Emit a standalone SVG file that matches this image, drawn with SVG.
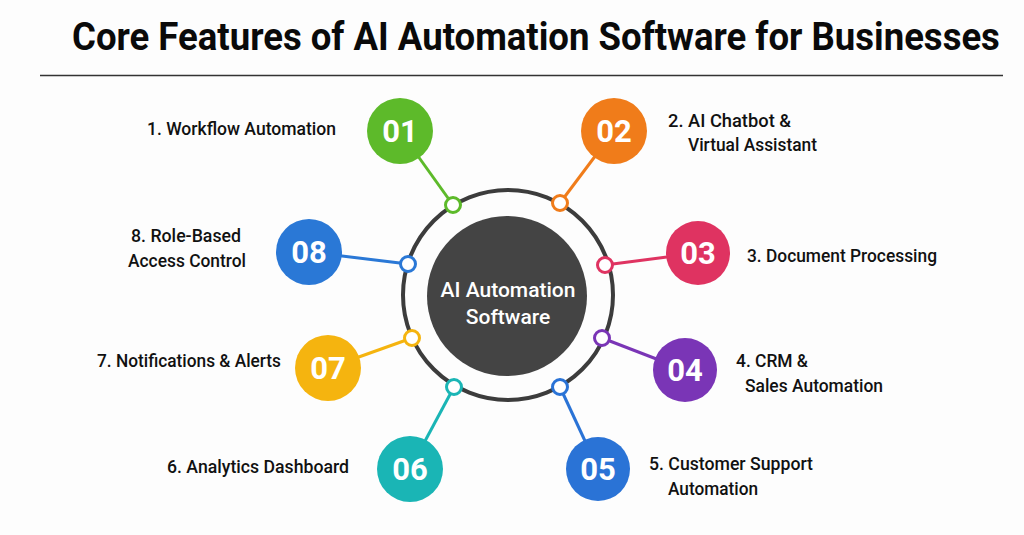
<svg xmlns="http://www.w3.org/2000/svg" width="1024" height="535" viewBox="0 0 1024 535">
<style>
.lbl{font-family:Roboto,"Liberation Sans",sans-serif;font-weight:500;font-size:18px;fill:#111}
.num{font-family:Roboto,"Liberation Sans",sans-serif;font-weight:700;font-size:31px;fill:#fff;text-anchor:middle}
.ctr{font-family:Roboto,"Liberation Sans",sans-serif;font-weight:500;font-size:21px;fill:#fff;text-anchor:middle}
.dot{fill:#fff;stroke-width:3}
.con{stroke-width:3;fill:none}
</style>
<rect width="1024" height="535" fill="#fdfdfd"/>
<text transform="scale(0.9,1)" x="80" y="50" font-family="Roboto,'Liberation Sans',sans-serif" font-weight="700" font-size="38" fill="#0a0a0a" textLength="1031" lengthAdjust="spacingAndGlyphs">Core Features of AI Automation Software for Businesses</text>
<line x1="40" y1="75.5" x2="1003" y2="75.5" stroke="#333" stroke-width="1.6"/>
<g id="connectors">
<line class="con" x1="400" y1="131" x2="453" y2="205" stroke="#5dba2a"/>
<line class="con" x1="614" y1="131" x2="560" y2="203" stroke="#f07c1a"/>
<line class="con" x1="698" y1="253" x2="605" y2="265" stroke="#df3361"/>
<line class="con" x1="685" y1="370" x2="602" y2="338" stroke="#7a35b6"/>
<line class="con" x1="598" y1="469" x2="560" y2="387" stroke="#2a73d6"/>
<line class="con" x1="410" y1="469" x2="454" y2="387" stroke="#1ab5b5"/>
<line class="con" x1="328" y1="368" x2="412" y2="338" stroke="#f5b40f"/>
<line class="con" x1="309" y1="252" x2="408" y2="264" stroke="#2a78d6"/>
</g>
<g id="hub">
<circle cx="508" cy="295" r="105" fill="none" stroke="#3c3c3c" stroke-width="4"/>
<circle cx="507" cy="296" r="80" fill="#444"/>
<text class="ctr" x="508" y="297">AI Automation</text>
<text class="ctr" x="508" y="324">Software</text>
</g>
<g id="node01">
<circle class="dot" cx="453" cy="205" r="7.5" stroke="#5dba2a"/>
<circle cx="400" cy="131" r="33" fill="#5dba2a"/>
<text class="num" x="400" y="142">01</text>
<text class="lbl" x="147" y="135" textLength="189" lengthAdjust="spacingAndGlyphs">1. Workflow Automation</text>
</g>
<g id="node02">
<circle class="dot" cx="560" cy="203" r="7.5" stroke="#f07c1a"/>
<circle cx="614" cy="131" r="33" fill="#f07c1a"/>
<text class="num" x="614" y="142">02</text>
<text class="lbl" x="668" y="127" textLength="123" lengthAdjust="spacingAndGlyphs">2. AI Chatbot &amp;</text>
<text class="lbl" x="688" y="151" textLength="129" lengthAdjust="spacingAndGlyphs">Virtual Assistant</text>
</g>
<g id="node03">
<circle class="dot" cx="605" cy="265" r="7.5" stroke="#df3361"/>
<circle cx="698" cy="253" r="32" fill="#df3361"/>
<text class="num" x="698" y="264">03</text>
<text class="lbl" x="747" y="262" textLength="190" lengthAdjust="spacingAndGlyphs">3. Document Processing</text>
</g>
<g id="node04">
<circle class="dot" cx="602" cy="338" r="7.5" stroke="#7a35b6"/>
<circle cx="685" cy="370" r="32" fill="#7a35b6"/>
<text class="num" x="685" y="381">04</text>
<text class="lbl" x="736" y="367" textLength="72" lengthAdjust="spacingAndGlyphs">4. CRM &amp;</text>
<text class="lbl" x="745" y="392" textLength="138" lengthAdjust="spacingAndGlyphs">Sales Automation</text>
</g>
<g id="node05">
<circle class="dot" cx="560" cy="387" r="7.5" stroke="#2a73d6"/>
<circle cx="598" cy="469" r="32" fill="#2a73d6"/>
<text class="num" x="598" y="480">05</text>
<text class="lbl" x="649" y="470" textLength="164" lengthAdjust="spacingAndGlyphs">5. Customer Support</text>
<text class="lbl" x="668" y="495" textLength="90" lengthAdjust="spacingAndGlyphs">Automation</text>
</g>
<g id="node06">
<circle class="dot" cx="454" cy="387" r="7.5" stroke="#1ab5b5"/>
<circle cx="410" cy="469" r="33" fill="#1ab5b5"/>
<text class="num" x="410" y="480">06</text>
<text class="lbl" x="167" y="473" textLength="182" lengthAdjust="spacingAndGlyphs">6. Analytics Dashboard</text>
</g>
<g id="node07">
<circle class="dot" cx="412" cy="338" r="7.5" stroke="#f5b40f"/>
<circle cx="328" cy="368" r="33" fill="#f5b40f"/>
<text class="num" x="328" y="379">07</text>
<text class="lbl" x="97" y="367" textLength="184" lengthAdjust="spacingAndGlyphs">7. Notifications &amp; Alerts</text>
</g>
<g id="node08">
<circle class="dot" cx="408" cy="264" r="7.5" stroke="#2a78d6"/>
<circle cx="309" cy="252" r="33" fill="#2a78d6"/>
<text class="num" x="309" y="263">08</text>
<text class="lbl" x="131" y="242" textLength="110" lengthAdjust="spacingAndGlyphs">8. Role-Based</text>
<text class="lbl" x="128" y="267" textLength="118" lengthAdjust="spacingAndGlyphs">Access Control</text>
</g>
</svg>
